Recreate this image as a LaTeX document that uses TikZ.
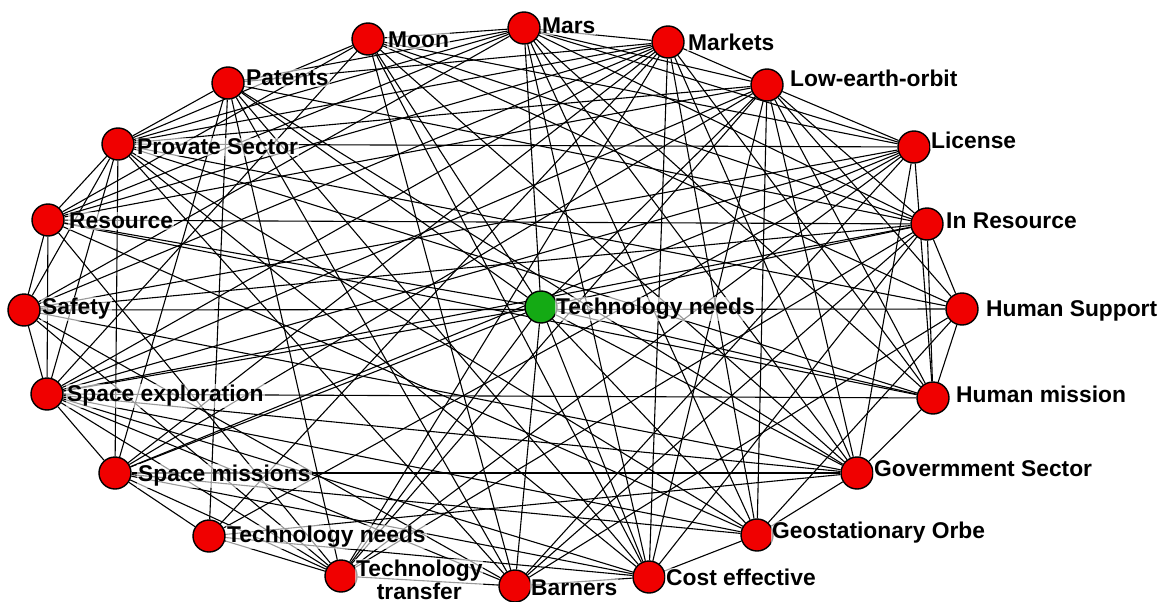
\documentclass[tikz,border=0pt]{standalone}
\usepackage{fontspec}
\setmainfont{Liberation Sans}
\definecolor{nodered}{RGB}{240,0,0}
\definecolor{nodegreen}{RGB}{20,170,20}
\pgfdeclarelayer{edges}
\pgfsetlayers{edges,main}
\begin{document}
\begin{tikzpicture}[x=1pt,y=-1pt,
  vtx/.style={circle,draw=black,line width=1.4pt,fill=nodered,minimum size=32pt,inner sep=0pt},
  lbl/.style={anchor=west,font=\bfseries\fontsize{22.8}{20}\selectfont,inner sep=1pt,fill=white,fill opacity=0.6,text opacity=1},
  link/.style={line width=1.1pt,black}]
\useasboundingbox (0,0) rectangle (1162,602);
% nodes
\node[vtx] (MO) at (368,39) {};
\node[vtx] (MA) at (524,28) {};
\node[vtx] (MK) at (668,42) {};
\node[vtx] (LE) at (767,85) {};
\node[vtx] (LI) at (914,147) {};
\node[vtx] (IR) at (927,224) {};
\node[vtx] (HS) at (962,309) {};
\node[vtx] (HM) at (933,398) {};
\node[vtx] (GS) at (857,473) {};
\node[vtx] (GO) at (757,535) {};
\node[vtx] (CE) at (649,577) {};
\node[vtx] (BA) at (515,586) {};
\node[vtx] (TT) at (341,576) {};
\node[vtx] (TN) at (209,536) {};
\node[vtx] (SM) at (115,473) {};
\node[vtx] (SE) at (47,394) {};
\node[vtx] (SA) at (24,310) {};
\node[vtx] (RE) at (48,220) {};
\node[vtx] (PS) at (118,144) {};
\node[vtx] (PA) at (228,83) {};
\node[vtx,fill=nodegreen] (C) at (541,307) {};
% edges
\begin{pgfonlayer}{edges}
\fill[white] (0,0) rectangle (1162,602);
\foreach \a/\b in {MO/MA, MO/PS, MO/RE, MO/SE, MO/C, MO/LI, MO/IR, MO/HS, MO/GS, MO/CE, MO/BA,
  MA/C, MA/PA, MA/PS, MA/RE, MA/SA, MA/LE, MA/LI, MA/IR, MA/HM, MA/GS, MA/GO, MA/CE, MA/MK,
  MK/PA, MK/CE, MK/LE, MK/PS, MK/RE, MK/SA, MK/SE, MK/SM, MK/TN, MK/TT, MK/HM, MK/GS, MK/GO,
  LE/GO, LE/LI, LE/IR, LE/HS, LE/HM, LE/GS, LE/PS, LE/RE, LE/SE, LE/SM, LE/C, LE/CE, LE/TT,
  LI/PS, LI/GS, LI/SA, LI/SE, LI/SM, LI/TN, LI/TT, LI/BA, LI/HM,
  IR/RE, IR/HM, IR/HS, IR/SA, IR/SE, IR/C, IR/TT, IR/CE, IR/PA, IR/BA,
  HS/SA, HS/HM, HS/PS, HS/GO, HS/BA,
  HM/SE, HM/GS, HM/C, HM/RE, HM/PS,
  GS/SM, GS/GO, GS/SE, GS/SA, GS/TN, GS/PA, GS/C,
  GO/SE, GO/SM, GO/PS, GO/RE, GO/C, GO/CE,
  CE/SE, CE/SM, CE/TN, CE/BA, CE/C, CE/PA, CE/PS,
  BA/C, BA/TT, BA/PA, BA/PS, BA/SE, BA/SA,
  TT/TN, TT/SE, TT/SM, TT/SA, TT/RE, TT/PA, TT/C,
  TN/SM, TN/PA,
  SM/SE, SM/C, SM/PA, SM/PS,
  SE/SA, SE/RE, SE/C, SE/PS,
  SA/RE, SA/PS,
  RE/PS, RE/C,
  PS/PA, PA/C}
  \draw[link] (\a) -- (\b);
\end{pgfonlayer}
% labels
\node[lbl] (tMO) at (387,40) {Moon};
\node[lbl] (tMA) at (541,26) {Mars};
\node[lbl] (tMK) at (687,42) {Markets};
\node[lbl] (tLE) at (789,78) {Low-earth-orbit};
\node[lbl] (tLI) at (930,140) {License};
\node[lbl] (tIR) at (945,221) {In Resource};
\node[lbl] (tHS) at (985,311) {Human Support};
\node[lbl] (tHM) at (955,394) {Human mission};
\node[lbl] (tGS) at (873,469) {Govermment Sector};
\node[lbl] (tGO) at (771,533) {Geostationary Orbe};
\node[lbl] (tCE) at (665,577) {Cost effective};
\node[lbl] (tBA) at (530,588) {Barners};
\node[lbl,align=center] (tTT) at (355,580) {Technology\\transfer};
\node[lbl] (tTN) at (226,537) {Technology needs};
\node[lbl] (tSM) at (137,476) {Space missions};
\node[lbl] (tSE) at (66,396) {Space exploration};
\node[lbl] (tSA) at (41,309) {Safety};
\node[lbl] (tRE) at (68,221) {Resource};
\node[lbl] (tPS) at (136,147) {Provate Sector};
\node[lbl] (tPA) at (245,78) {Patents};
\node[lbl] (tC) at (555,309) {Technology needs};
\end{tikzpicture}
\end{document}
